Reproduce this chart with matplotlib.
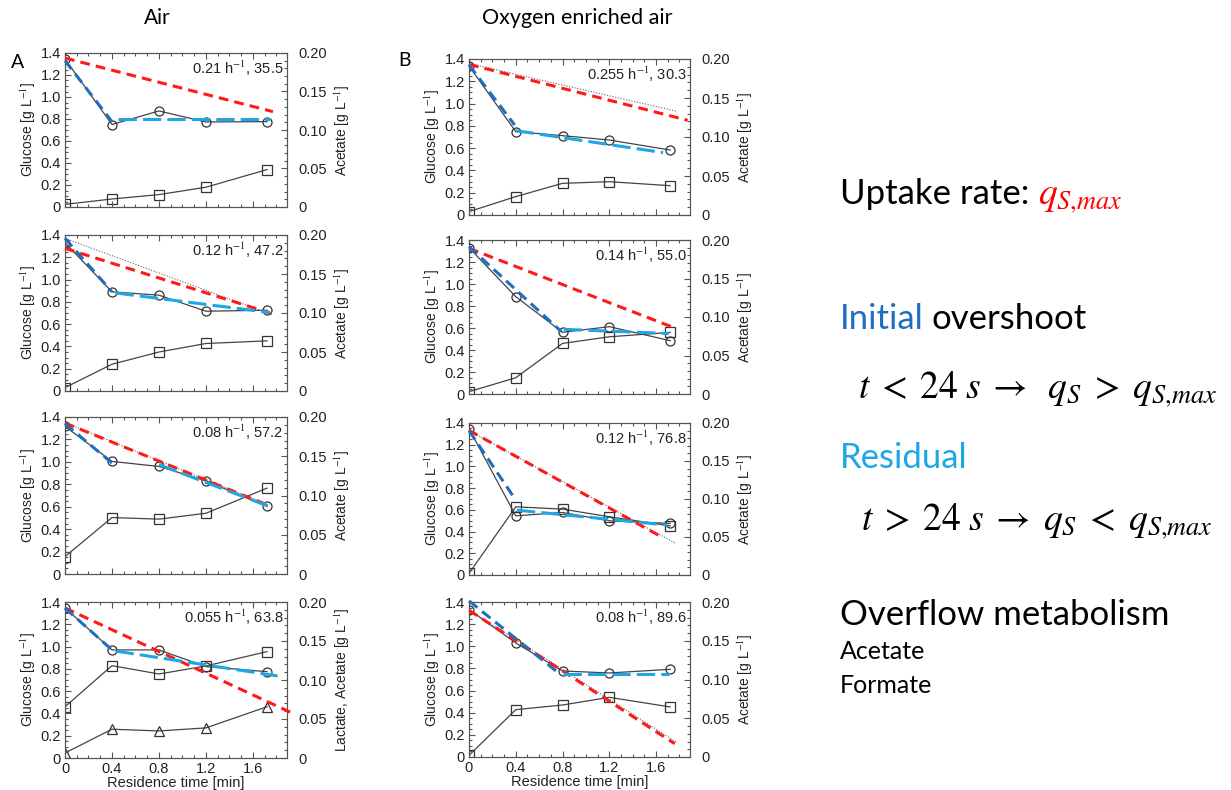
import matplotlib
matplotlib.use('Agg')
import matplotlib.pyplot as plt
from matplotlib.ticker import MultipleLocator

plt.rcParams['font.family'] = ['Liberation Sans', 'DejaVu Sans']
plt.rcParams['mathtext.fontset'] = 'stix'

# residence time of the samples [min]
t = [0, 0.4, 0.8, 1.2, 1.72]

air_rates = ['0.21', '0.12', '0.08', '0.055']
air_qo2 = ['35.5', '47.2', '57.2', '63.8']
o2_rates = ['0.255', '0.14', '0.12', '0.08']
o2_qo2 = ['30.3', '55.0', '76.8', '89.6']

# glucose [g/L] (circles, left axis)
air_glc = [[1.345, 0.75, 0.873, 0.773, 0.776],
           [1.331, 0.89, 0.86, 0.716, 0.725],
           [1.317, 1.004, 0.959, 0.831, 0.602],
           [1.346, 0.97, 0.97, 0.82, 0.775]]
o2_glc = [[1.337, 0.748, 0.712, 0.673, 0.583],
          [1.33, 0.885, 0.561, 0.612, 0.485],
          [1.348, 0.545, 0.576, 0.499, 0.475],
          [1.331, 1.03, 0.777, 0.759, 0.792]]

# acetate [g/L] (squares, right axis)
air_ace = [[0.0034, 0.0104, 0.0161, 0.0257, 0.0486],
           [0.0043, 0.0343, 0.050, 0.0609, 0.0643],
           [0.0221, 0.0719, 0.0699, 0.0774, 0.1094],
           [0.0657, 0.1184, 0.1077, 0.118, 0.1364]]
o2_ace = [[0.0043, 0.0236, 0.0406, 0.0427, 0.0376],
          [0.003, 0.0211, 0.0657, 0.0743, 0.080],
          [0.0021, 0.0897, 0.0867, 0.0766, 0.0647],
          [0.0021, 0.0611, 0.0671, 0.077, 0.0646]]

# lactate [g/L] (triangles, right axis, last air panel only)
air_lac = [0.0064, 0.0369, 0.0347, 0.0386, 0.0657]

# guide lines [x0, y0, x1, y1] in glucose units
air_qmax = [[0, 1.354, 1.77, 0.867], [0, 1.28, 1.745, 0.70],
            [0, 1.346, 1.69, 0.63], [0, 1.346, 1.92, 0.41]]
o2_qmax = [[0, 1.352, 1.87, 0.85], [0, 1.324, 1.76, 0.60],
           [0, 1.332, 1.645, 0.352], [0, 1.325, 1.76, 0.12]]
air_fit = [None, [0, 1.37, 1.76, 0.686], [0, 1.35, 1.72, 0.62], None]
o2_fit = [[0, 1.36, 1.78, 0.93], None, [0, 1.33, 1.77, 0.29], [0, 1.33, 1.78, 0.13]]
air_init = [[0, 1.33, 0.4, 0.776], [0, 1.37, 0.4, 0.89],
            [0, 1.34, 0.4, 0.99], [0, 1.346, 0.4, 0.97]]
o2_init = [[0, 1.346, 0.39, 0.808], [0, 1.34, 0.79, 0.567],
           [0, 1.33, 0.4, 0.69], [0, 1.41, 0.78, 0.747]]
air_resid = [[0.45, 0.797, 1.745, 0.797], [0.43, 0.88, 1.74, 0.705],
             [0.8, 0.975, 1.745, 0.60], [0.43, 0.96, 1.81, 0.736]]
o2_resid = [[0.4, 0.757, 1.66, 0.56], [0.81, 0.588, 1.71, 0.55],
            [0.41, 0.597, 1.7, 0.46], [0.8, 0.747, 1.71, 0.747]]

W, H = 1231, 790
fig = plt.figure(figsize=(W / 100, H / 100), dpi=100, facecolor='w')

def rect(left, right, top, bottom):
  return [left / W, 1 - bottom / H, (right - left) / W, (bottom - top) / H]

def seg(ax, s, **kw):
  if s is None:
    return
  ax.plot([s[0], s[2]], [s[1], s[3]], clip_on=False, **kw)

FS = 10.5

def panel(r, glc, ace, qmax, fit, init, resid, label, bottom_row, lac=None,
          rlabel='Acetate [g L$^{-1}$]'):
  ax = fig.add_axes(r)
  ax2 = ax.twinx()
  ax.set_zorder(ax2.get_zorder() + 1)
  ax.patch.set_visible(False)
  ax.set_xlim(0, 1.89)
  ax.set_ylim(0, 1.4)
  ax2.set_ylim(0, 0.2)

  ax.plot(t, glc, color='#444', lw=0.9, marker='o', ms=6.5, mfc='none', mec='#333', mew=0.9, zorder=3)
  ax2.plot(t, ace, color='#444', lw=0.9, marker='s', ms=6.5, mfc='none', mec='#333', mew=0.9)
  if lac is not None:
    ax2.plot(t, lac, color='#444', lw=0.9, marker='^', ms=6.5, mfc='none', mec='#333', mew=0.9)

  seg(ax, fit, color='#666', lw=0.8, ls=(0, (1, 1.5)), zorder=4)
  seg(ax, qmax, color='#ff1a1a', lw=2.2, ls=(0, (3.2, 2)), zorder=5)
  seg(ax, init, color='#1f6fc0', lw=2.2, ls=(0, (3.5, 2)), zorder=6)
  seg(ax, resid, color='#1ea7e4', lw=2.2, ls=(0, (6, 2)), zorder=6)

  ax.text(0.985, 0.9, label, transform=ax.transAxes, ha='right', va='center', fontsize=FS, color='#222')

  ax.set_yticks([0, 0.2, 0.4, 0.6, 0.8, 1.0, 1.2, 1.4])
  ax.set_yticklabels(['0', '0.2', '0.4', '0.6', '0.8', '1.0', '1.2', '1.4'])
  ax.yaxis.set_minor_locator(MultipleLocator(0.05))
  ax.set_xticks([0, 0.4, 0.8, 1.2, 1.6])
  ax.xaxis.set_minor_locator(MultipleLocator(0.1))
  ax.tick_params(which='both', direction='in', top=True, right=False, colors='#555',
                 labelcolor='#222', labelsize=FS, pad=3, width=0.8)
  ax.tick_params(which='major', length=4)
  ax.tick_params(which='minor', length=2)
  if bottom_row:
    ax.set_xticklabels(['0', '0.4', '0.8', '1.2', '1.6'])
    ax.set_xlabel('Residence time [min]', fontsize=FS, color='#222', labelpad=0)
  else:
    ax.tick_params(labelbottom=False)
  ax.set_ylabel('Glucose [g L$^{-1}$]', fontsize=FS - 0.5, color='#222', labelpad=2)

  ax2.set_yticks([0, 0.05, 0.10, 0.15, 0.20])
  ax2.set_yticklabels(['0', '0.05', '0.10', '0.15', '0.20'])
  ax2.yaxis.set_minor_locator(MultipleLocator(0.01))
  ax2.tick_params(which='both', direction='in', colors='#555', labelcolor='#222',
                  labelsize=FS, pad=8, width=0.8)
  ax2.tick_params(which='major', length=4)
  ax2.tick_params(which='minor', length=2)
  ax2.set_ylabel(rlabel, fontsize=FS - 0.5, color='#222', labelpad=4)
  for a in (ax, ax2):
    for s in a.spines.values():
      s.set_color('#555')
      s.set_linewidth(0.8)
  return ax

air_tops = [53, 235, 417, 602]
air_bots = [207, 391, 574, 758]
o2_tops = [59, 240, 423, 602]
o2_bots = [215, 394, 575, 757]

for i in range(4):
  lbl = air_rates[i] + ' h$^{-1}$, ' + air_qo2[i]
  panel(rect(65, 287, air_tops[i], air_bots[i]), air_glc[i], air_ace[i], air_qmax[i], air_fit[i],
        air_init[i], air_resid[i], lbl, i == 3,
        lac=air_lac if i == 3 else None,
        rlabel='Lactate, Acetate [g L$^{-1}$]' if i == 3 else 'Acetate [g L$^{-1}$]')
  lbl = o2_rates[i] + ' h$^{-1}$, ' + o2_qo2[i]
  panel(rect(469, 690, o2_tops[i], o2_bots[i]), o2_glc[i], o2_ace[i], o2_qmax[i], o2_fit[i],
        o2_init[i], o2_resid[i], lbl, i == 3)

def ftext(x, y, s, **kw):
  return fig.text(x / W, 1 - y / H, s, **kw)

ftext(157, 18, 'Air', ha='center', va='center', fontsize=15, family='Lato')
ftext(577, 18, 'Oxygen enriched air', ha='center', va='center', fontsize=15.5, family='Lato')
ftext(18, 63, 'A', ha='center', va='center', fontsize=14, family='Lato')
ftext(405, 60, 'B', ha='center', va='center', fontsize=14, family='Lato')

big = 25
mbig = 27
t1 = ftext(840, 204, 'Uptake rate: ', ha='left', va='baseline', fontsize=big, family='Lato')
t2 = ftext(840, 329, 'Initial', ha='left', va='baseline', fontsize=big, family='Lato', color='#1f6fc0')
ftext(858, 398, r'$t\;<\;24\;s\;\rightarrow\;\;q_S\;>\;q_{S{,}max}$', ha='left', va='baseline', fontsize=mbig)
ftext(840, 468, 'Residual', ha='left', va='baseline', fontsize=big, family='Lato', color='#1ea7e4')
ftext(861, 530, r'$t\;>\;24\;s\;\rightarrow\;q_S\;<\;q_{S{,}max}$', ha='left', va='baseline', fontsize=mbig)
ftext(840, 625, 'Overflow metabolism', ha='left', va='baseline', fontsize=big, family='Lato')
ftext(840, 659, 'Acetate', ha='left', va='baseline', fontsize=18, family='Lato')
ftext(840, 693, 'Formate', ha='left', va='baseline', fontsize=18, family='Lato')

# place the coloured / black continuation pieces right after the first words
fig.canvas.draw()
r = fig.canvas.get_renderer()
bb = t1.get_window_extent(r)
fig.text(bb.x1 / W, 1 - 204 / H, r'$q_{S{,}max}$', ha='left', va='baseline', fontsize=mbig, color='#ff0000')
bb = t2.get_window_extent(r)
fig.text(bb.x1 / W + 0.006, 1 - 329 / H, 'overshoot', ha='left', va='baseline', fontsize=big, family='Lato')

fig.savefig('out.png', dpi=100, facecolor='w')
